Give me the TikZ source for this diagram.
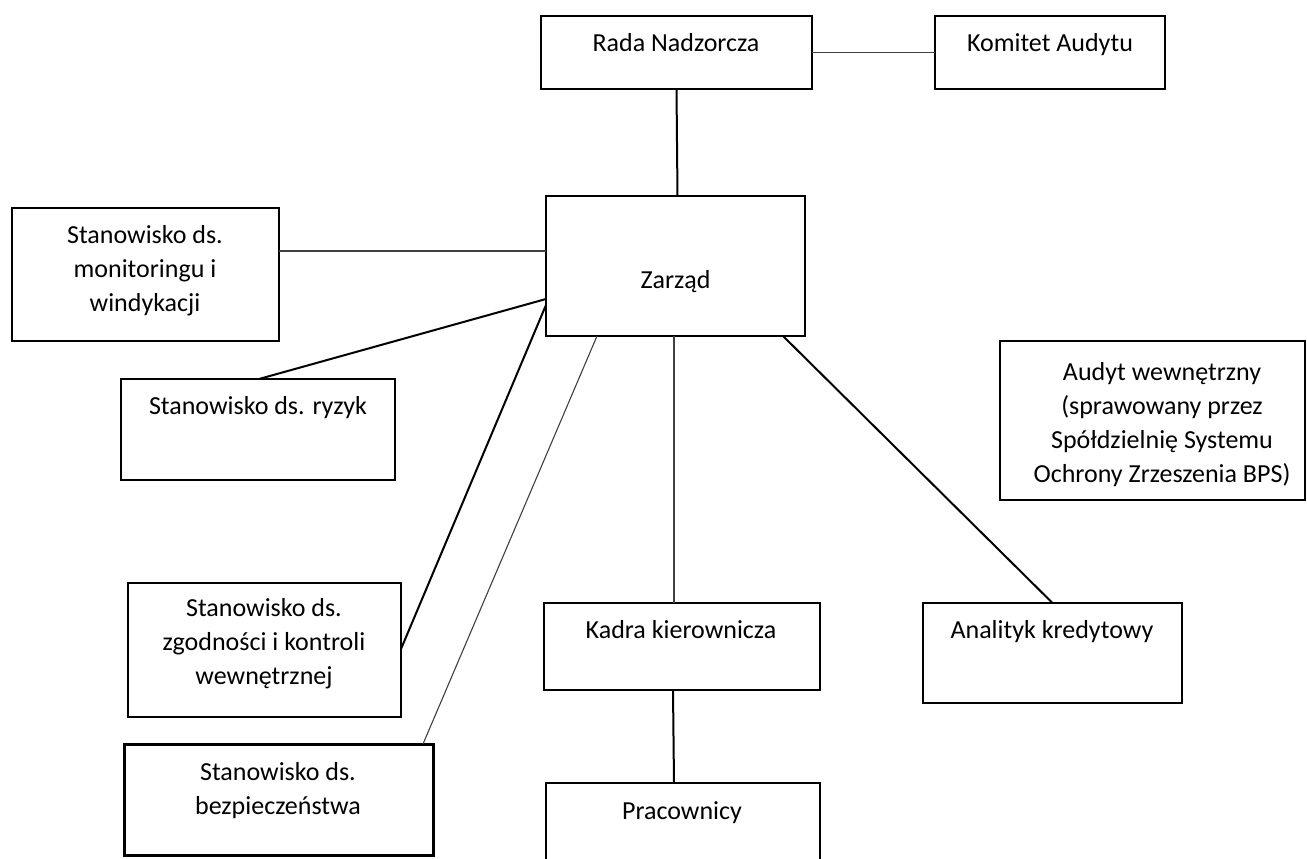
\documentclass[tikz,border=0pt]{standalone}
\usepackage{fontspec}
\setmainfont{Carlito}
\usetikzlibrary{calc}
\tikzset{
  box/.style={draw=black, line width=2pt, fill=white, inner sep=0pt, outer sep=0pt},
  thickbox/.style={box, line width=3pt},
  lbl/.style={align=center, inner sep=0pt, font=\fontsize{26}{34}\selectfont},
  onelbl/.style={inner sep=0pt, text height=18pt, text depth=6pt, font=\fontsize{26}{34}\selectfont},
  thinline/.style={draw=black!75, line width=1.1pt},
  midline/.style={draw=black, line width=2pt},
}
\begin{document}
\begin{tikzpicture}[x=1pt, y=-1pt]
\useasboundingbox (0,0) rectangle (1307,859);
\clip (0,0) rectangle (1307,859);
\fill[white] (0,0) rectangle (1307,859);

% boxes
\node[box, minimum width=271pt, minimum height=73pt] (rada) at (676.5,52.5) {};
\node[box, minimum width=230pt, minimum height=73pt] (komitet) at (1050,52.5) {};
\node[box, minimum width=259pt, minimum height=140pt] (zarzad) at (675.5,266) {};
\node[box, minimum width=267pt, minimum height=133pt] (monit) at (145.5,274.5) {};
\node[box, minimum width=274pt, minimum height=101pt] (ryzyk) at (258,429.5) {};
\node[box, minimum width=305pt, minimum height=159pt] (audyt) at (1152.5,420.5) {};
\node[box, minimum width=273pt, minimum height=134pt] (zgod) at (264.5,650) {};
\node[thickbox, minimum width=309pt, minimum height=111pt] (bezp) at (278.5,799.5) {};
\node[box, minimum width=276pt, minimum height=87pt] (kadra) at (682,646.5) {};
\node[box, minimum width=259pt, minimum height=100pt] (anal) at (1052.5,653) {};
\node[box, minimum width=274pt, minimum height=87pt] (prac) at (683,826.5) {};

% texts
\node[onelbl] (rada-t) at (676,46) {Rada Nadzorcza};
\node[onelbl] (komitet-t) at (1050,46) {Komitet Audytu};
\node[onelbl] (zarzad-t) at (675.5,282) {Zarząd};
\node[lbl] (monit-t) at (145,271) {Stanowisko ds.\\monitoringu i\\windykacji};
\node[onelbl] (ryzyk-t) at (258,408) {Stanowisko ds. ryzyk};
\node[lbl] (audyt-t) at (1162,425) {Audyt wewnętrzny\\(sprawowany przez\\Spółdzielnię Systemu\\Ochrony Zrzeszenia BPS)};
\node[lbl] (zgod-t) at (264,644) {Stanowisko ds.\\zgodności i kontroli\\wewnętrznej};
\node[lbl] (bezp-t) at (278,791) {Stanowisko ds.\\bezpieczeństwa};
\node[onelbl] (kadra-t) at (681,632) {Kadra kierownicza};
\node[onelbl] (anal-t) at (1052,632) {Analityk kredytowy};
\node[onelbl] (prac-t) at (682,813) {Pracownicy};

% connectors
\draw[thinline] (rada.east) -- (komitet.west);
\draw[midline] (rada.south) -- ($(zarzad.north)+(2,0)$);
\draw[thinline] ($(monit.north east)+(0,43)$) coordinate (m1) -- (m1 -| zarzad.west);
\draw[midline] ($(ryzyk.north west)+(138,0)$) -- ($(zarzad.north west)+(0,103)$);
\draw[midline] ($(zgod.north east)+(0,66)$) -- ($(zarzad.north west)+(0,109)$);
\draw[thinline] ($(bezp.north east)+(-10,0)$) -- ($(zarzad.south west)+(51,0)$);
\draw[thinline] ($(zarzad.south west)+(128,0)$) coordinate (k1) -- (k1 |- kadra.north);
\draw[midline] ($(zarzad.south west)+(237,0)$) -- (anal.north);
\draw[midline] ($(kadra.south west)+(129,0)$) -- ($(prac.north west)+(128,0)$);
\end{tikzpicture}
\end{document}
